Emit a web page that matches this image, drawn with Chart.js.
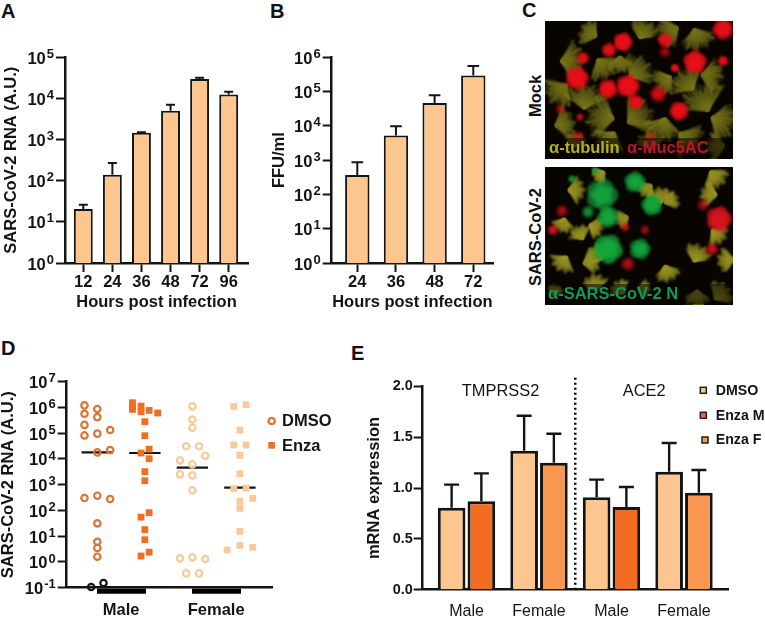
<!DOCTYPE html>
<html>
<head>
<meta charset="utf-8">
<style>
    html, body { margin: 0; padding: 0; background: #fff; width: 765px; height: 617px; overflow: hidden; }
    body { position: relative; font-family: "Liberation Sans", Arial, sans-serif; color: #111; }
    canvas { position: absolute; display: block; }
    .letter { position: absolute; font-size: 20px; font-weight: bold; line-height: 20px; }
    .side { position: absolute; font-size: 16.5px; font-weight: bold; line-height: 20px; white-space: nowrap; transform: translate(-50%, -50%) rotate(-90deg); }
</style>
<script src="https://cdn.jsdelivr.net/npm/chart.js@4"></script>
</head>
<body>
<div class="letter" style="left:1px;top:1px">A</div>
<div class="letter" style="left:270px;top:1px">B</div>
<div class="letter" style="left:522px;top:0px">C</div>
<div class="letter" style="left:1px;top:338px">D</div>
<div class="letter" style="left:351px;top:343px">E</div>
<div class="side" style="left:535px;top:96px">Mock</div>
<div class="side" style="left:535px;top:237px">SARS-CoV-2</div>

<canvas id="chart_a" width="262" height="285" style="left:0;top:30px"></canvas>
<canvas id="chart_b" width="240" height="285" style="left:262px;top:30px"></canvas>
<canvas id="photo_mock" width="188" height="138" style="left:545px;top:21px"></canvas>
<canvas id="photo_cov" width="188" height="138" style="left:545px;top:167px"></canvas>
<canvas id="chart_d" width="350" height="257" style="left:-6px;top:360px"></canvas>
<canvas id="chart_e" width="415" height="257" style="left:350px;top:360px"></canvas>

<script>
// panel A
const hoursA = ["12", "24", "36", "48", "72", "96"];
const rnaA = [20.5, 140, 1470, 5040, 29700, 12400];
const rnaErrA = [26, 270, 1500, 7050, 32000, 14600];
const powersA = [0, 1, 2, 3, 4, 5];

// panel B
const hoursB = ["24", "36", "48", "72"];
const ffuB = [370, 5200, 46700, 293000];
const ffuErrB = [867, 9730, 78200, 561000];
const powersB = [0, 1, 2, 3, 4, 5, 6];

// panel D, x is group number plus the sideways spread of the dots
const powersD = [-1, 0, 1, 2, 3, 4, 5, 6, 7];
const groupNames = ["Male", "Female"];
const groupTicks = [1.5, 3.5];
const medianCentres = [1, 2, 3, 4];
const medians = [18000, 17000, 4570, 765];

const maleDmsoX = [0.73, 1, 0.73, 1, 0.73, 1.27, 1, 0.73, 1.27, 1, 0.73, 1, 1.27, 1, 1, 1, 1];
const maleDmso = [1200000, 870000, 570000, 420000, 210000, 133000, 96000, 82000, 22000, 18000, 303, 374, 277, 31.5, 6.1, 3.5, 1.6];
const maleDmsoLowX = [0.87, 1.13];
const maleDmsoLow = [0.106, 0.152];

const maleEnzaX = [1.74, 1.74, 1.74, 1.92, 1.92, 2.09, 2.27, 2, 2, 2.09, 1.92, 2.09, 2, 2, 2.09, 1.92, 2, 2, 2.09, 1.92];
const maleEnza = [1530000, 1100000, 840000, 1130000, 680000, 770000, 610000, 280000, 80000, 24000, 17000, 10200, 3200, 1430, 82, 55, 18, 7.3, 2.4, 1.7];

const femaleDmsoX = [3, 3, 3, 2.87, 3.14, 3.27, 2.74, 3, 2.74, 3, 3, 2.74, 3, 3.27, 2.87, 3.14];
const femaleDmso = [1100000, 340000, 164000, 31000, 31000, 13400, 8800, 6160, 2520, 2300, 603, 1.38, 1.5, 1.3, 0.36, 0.36];

const femaleEnzaX = [3.87, 4.13, 4, 3.87, 4.13, 4, 4, 3.87, 4.13, 4, 4.27, 4, 4, 4, 4.27, 3.73];
const femaleEnza = [1100000, 1280000, 133000, 34700, 34700, 13800, 2670, 700, 742, 225, 294, 120, 15.4, 4.4, 3.7, 2.9];

// panel E
const groupsE = ["Male", "Female", "Male", "Female"];
const dmsoE = [0.807, 1.367, 0.908, 1.16];
const dmsoErrE = [1.033, 1.711, 1.082, 1.443];
const enzaE = [0.869, 1.249, 0.813, 0.954];
const enzaErrE = [1.144, 1.534, 1.01, 1.177];
const genes = ["TMPRSS2", "ACE2"];
const genePositions = [1.47, 3.45];

const PEACH = "#fdc68f";
const ORANGE = "#f26c22";
const MID_ORANGE = "#f9964f";
const INK = "#141414";
const BOLD = { size: 16.5, weight: "bold" };

Chart.defaults.font.family = '"Liberation Sans", Arial, sans-serif';
Chart.defaults.color = INK;
Chart.defaults.animation = false;
Chart.defaults.responsive = false;
Chart.defaults.plugins.legend.display = false;
Chart.defaults.plugins.tooltip.enabled = false;

// whisker above each bar, only the upper half like in the paper
const whiskers = {
    id: "whiskers",
    afterDatasetsDraw: function (chart) {
        const ctx = chart.ctx, y = chart.scales.y;
        chart.data.datasets.forEach(function (set, i) {
            if (!set.errHigh) return;
            chart.getDatasetMeta(i).data.forEach(function (bar, k) {
                const top = y.getPixelForValue(set.errHigh[k]);
                ctx.save();
                ctx.strokeStyle = INK;
                ctx.lineWidth = set.errWidth;
                ctx.beginPath();
                ctx.moveTo(bar.x, bar.y);
                ctx.lineTo(bar.x, top);
                ctx.moveTo(bar.x - set.errCap, top);
                ctx.lineTo(bar.x + set.errCap, top);
                ctx.stroke();
                ctx.restore();
            });
        });
    }
};

// tick labels of the log axes, 10 with a raised exponent
const powerLabels = {
    id: "powerLabels",
    afterDraw: function (chart) {
        const scale = chart.scales.y, ctx = chart.ctx;
        if (scale.type !== "logarithmic") return;
        const right = scale.right - 11;
        scale.ticks.forEach(function (tick) {
            const py = scale.getPixelForValue(tick.value);
            const exp = String(Math.round(Math.log10(tick.value)));
            ctx.save();
            ctx.fillStyle = INK;
            ctx.textBaseline = "middle";
            ctx.textAlign = "left";
            ctx.font = 'bold 13px "Liberation Sans"';
            const w = ctx.measureText(exp).width;
            ctx.fillText(exp, right - w, py - 3);
            ctx.textAlign = "right";
            ctx.font = 'bold 16.5px "Liberation Sans"';
            ctx.fillText("10", right - w - 1, py + 2);
            ctx.restore();
        });
    }
};

function powerTicks(powers) {
    return function (scale) {
        scale.ticks = powers.map(function (p) { return { value: Math.pow(10, p) }; });
    };
}

function fixedTicks(values) {
    return function (scale) {
        scale.ticks = values.map(function (v) { return { value: v }; });
    };
}

function logBarChart(id, labels, values, errors, powers, opts) {
    return new Chart(document.getElementById(id), {
        type: "bar",
        data: {
            datasets: [{
                data: values.map(function (v, i) { return { x: i + 1, y: v }; }),
                errHigh: errors,
                errWidth: 2,
                errCap: opts.cap,
                backgroundColor: PEACH,
                borderColor: INK,
                borderWidth: 2,
                categoryPercentage: 1,
                barPercentage: opts.barShare
            }]
        },
        options: {
            layout: { padding: { top: 27.3, right: opts.right, left: 0, bottom: 0 } },
            scales: {
                x: {
                    type: "linear",
                    offset: false,
                    min: opts.xMin,
                    max: opts.xMax,
                    afterBuildTicks: fixedTicks(labels.map(function (l, i) { return i + 1; })),
                    afterFit: function (s) { s.height = 52; },
                    border: { color: INK, width: 2.5 },
                    grid: { offset: false, drawOnChartArea: false, tickColor: INK, tickWidth: 2, tickLength: 9 },
                    ticks: {
                        font: BOLD, padding: 1, maxRotation: 0, autoSkip: false,
                        callback: function (v) { return labels[v - 1]; }
                    },
                    title: { display: true, text: "Hours post infection", font: BOLD, padding: { top: 0, bottom: 3 } }
                },
                y: {
                    type: "logarithmic",
                    min: Math.pow(10, powers[0]),
                    max: Math.pow(10, powers[powers.length - 1]),
                    afterBuildTicks: powerTicks(powers),
                    afterFit: function (s) { s.width = opts.yWidth; },
                    border: { color: INK, width: 2.5 },
                    grid: { drawOnChartArea: false, tickColor: INK, tickWidth: 2, tickLength: 9 },
                    ticks: { display: false },
                    title: { display: true, text: opts.yTitle, font: BOLD, padding: { top: opts.titlePad, bottom: 0 } }
                }
            }
        },
        plugins: [whiskers, powerLabels]
    });
}

logBarChart("chart_a", hoursA, rnaA, rnaErrA, powersA, {
    cap: 4.5, barShare: 0.65, right: 14, xMin: 0.371, xMax: 6.664, yWidth: 65,
    yTitle: "SARS-CoV-2 RNA (A.U.)", titlePad: 1.8
});

logBarChart("chart_b", hoursB, ffuB, ffuErrB, powersB, {
    cap: 5.8, barShare: 0.63, right: 9, xMin: 0.338, xMax: 4.51, yWidth: 69.7,
    yTitle: "FFU/ml", titlePad: 7.4
});

function dots(xs, ys, color, style) {
    const round = style === "circle";
    return {
        data: ys.map(function (v, i) { return { x: xs[i], y: v }; }),
        showLine: false,
        order: 1,
        clip: false,
        pointStyle: style,
        pointRadius: round ? 3.2 : 4.8,
        pointBorderWidth: round ? 2.2 : 0,
        pointBorderColor: color,
        pointBackgroundColor: round ? "rgba(0,0,0,0)" : color
    };
}

function medianLine(i) {
    return {
        data: [{ x: medianCentres[i] - 0.33, y: medians[i] }, { x: medianCentres[i] + 0.33, y: medians[i] }],
        showLine: true,
        order: 2,
        borderColor: INK,
        borderWidth: 2.2,
        pointRadius: 0
    };
}

const legendD = {
    id: "legendD",
    afterDraw: function (chart) {
        const ctx = chart.ctx;
        ctx.save();
        ctx.strokeStyle = "#dd7434";
        ctx.lineWidth = 2.2;
        ctx.beginPath();
        ctx.arc(277.7, 61, 3.2, 0, Math.PI * 2);
        ctx.stroke();
        ctx.fillStyle = ORANGE;
        ctx.fillRect(274.3, 82, 6.6, 6.6);
        ctx.fillStyle = INK;
        ctx.font = 'bold 16.5px "Liberation Sans"';
        ctx.textBaseline = "middle";
        ctx.fillText("DMSO", 288, 61.5);
        ctx.fillText("Enza", 288, 86);
        ctx.restore();
    }
};

new Chart(document.getElementById("chart_d"), {
    type: "scatter",
    data: {
        datasets: [
            medianLine(0), medianLine(1), medianLine(2), medianLine(3),
            dots(maleDmsoX, maleDmso, "#dd7434", "circle"),
            dots(maleDmsoLowX, maleDmsoLow, INK, "circle"),
            dots(maleEnzaX, maleEnza, ORANGE, "rect"),
            dots(femaleDmsoX, femaleDmso, "#fbc998", "circle"),
            dots(femaleEnzaX, femaleEnza, "#fbc998", "rect")
        ]
    },
    options: {
        layout: { padding: { top: 21.7, right: 71.3, left: 0, bottom: 0 } },
        scales: {
            x: {
                type: "linear",
                min: 0.356,
                max: 4.69,
                afterBuildTicks: fixedTicks(groupTicks),
                afterFit: function (s) { s.height = 29.3; },
                border: { color: INK, width: 2.5 },
                grid: { drawOnChartArea: false, tickColor: "#000", tickWidth: 49, tickLength: 6 },
                ticks: {
                    font: BOLD, padding: 7, maxRotation: 0, autoSkip: false,
                    callback: function (v) { return groupNames[groupTicks.indexOf(v)]; }
                }
            },
            y: {
                type: "logarithmic",
                min: Math.pow(10, powersD[0]),
                max: Math.pow(10, powersD[powersD.length - 1]),
                afterBuildTicks: powerTicks(powersD),
                afterFit: function (s) { s.width = 72.7; },
                border: { color: INK, width: 2.5 },
                grid: { drawOnChartArea: false, tickColor: INK, tickWidth: 2, tickLength: 9 },
                ticks: { display: false },
                title: { display: true, text: "SARS-CoV-2 RNA (A.U.)", font: BOLD, padding: { top: 4.1, bottom: 0 } }
            }
        }
    },
    plugins: [powerLabels, legendD]
});

// dotted divider, gene names and the small legend of panel E
const notesE = {
    id: "notesE",
    afterDraw: function (chart) {
        const ctx = chart.ctx, x = chart.scales.x, y = chart.scales.y;
        ctx.save();
        ctx.strokeStyle = "#000";
        ctx.lineWidth = 2.5;
        ctx.setLineDash([2, 3]);
        ctx.beginPath();
        ctx.moveTo(x.getPixelForValue(2.5), y.getPixelForValue(0));
        ctx.lineTo(x.getPixelForValue(2.5), y.top - 11);
        ctx.stroke();
        ctx.setLineDash([]);

        ctx.fillStyle = INK;
        ctx.textBaseline = "middle";
        ctx.textAlign = "center";
        ctx.font = '16.4px "Liberation Sans"';
        genes.forEach(function (g, i) {
            ctx.fillText(g, x.getPixelForValue(genePositions[i]), y.getPixelForValue(1.95));
        });

        ctx.textAlign = "left";
        ctx.font = 'bold 14.2px "Liberation Sans"';
        [["DMSO", PEACH, 353.3, 30.3], ["Enza M", ORANGE, 353.3, 55.3], ["Enza F", MID_ORANGE, 355, 80]].forEach(function (row) {
            ctx.fillStyle = row[1];
            ctx.strokeStyle = "#222";
            ctx.lineWidth = 1.5;
            ctx.fillRect(row[2] - 3, row[3] - 3, 6, 6);
            ctx.strokeRect(row[2] - 3, row[3] - 3, 6, 6);
            ctx.fillStyle = INK;
            ctx.fillText(row[0], 365.7, row[3] + 0.5);
        });
        ctx.restore();
    }
};

function barsE(values, errors, colors) {
    return {
        data: values.map(function (v, i) { return { x: i + 1, y: v }; }),
        errHigh: errors,
        errWidth: 2.4,
        errCap: 7.5,
        backgroundColor: colors,
        borderColor: INK,
        borderWidth: 3,
        categoryPercentage: 0.82,
        barPercentage: 0.93
    };
}

new Chart(document.getElementById("chart_e"), {
    type: "bar",
    data: {
        datasets: [
            barsE(dmsoE, dmsoErrE, PEACH),
            barsE(enzaE, enzaErrE, [ORANGE, MID_ORANGE, ORANGE, MID_ORANGE])
        ]
    },
    options: {
        layout: { padding: { top: 26.3, right: 36.7, left: 0, bottom: 0 } },
        scales: {
            x: {
                type: "linear",
                offset: false,
                min: 0.396,
                max: 4.611,
                afterBuildTicks: fixedTicks([1, 2, 3, 4]),
                afterFit: function (s) { s.height = 27.3; },
                border: { color: INK, width: 2.5 },
                grid: { offset: false, drawOnChartArea: false, drawTicks: false },
                ticks: {
                    font: { size: 16 }, padding: 12, maxRotation: 0, autoSkip: false,
                    callback: function (v) { return groupsE[v - 1]; }
                }
            },
            y: {
                min: 0,
                max: 2,
                afterBuildTicks: fixedTicks([0, 0.5, 1, 1.5, 2]),
                afterFit: function (s) { s.width = 72.7; },
                border: { color: INK, width: 2.5 },
                grid: { drawOnChartArea: false, tickColor: INK, tickWidth: 2, tickLength: 9 },
                ticks: {
                    font: { size: 14.4, weight: "bold" }, padding: 1,
                    callback: function (v) { return v.toFixed(1); }
                },
                title: { display: true, text: "mRNA expression", font: BOLD, padding: { top: 15, bottom: 0 } }
            }
        }
    },
    plugins: [whiskers, notesE]
});

// panel C is a micrograph, painted by hand: [x, y, radius] in canvas pixels
const mockTufts = [[25, 40, 24], [15, 70, 24], [40, 78, 26], [58, 45, 22], [58, 96, 28], [92, 96, 28], [118, 106, 24], [158, 80, 30], [176, 100, 26],
    [125, 10, 22], [98, 10, 20], [152, 16, 22], [45, 12, 18], [18, 103, 20], [65, 118, 20], [105, 122, 18], [142, 118, 24], [172, 125, 18],
    [92, 50, 24], [75, 42, 16], [142, 62, 24], [165, 55, 22], [120, 60, 18], [30, 120, 14]];
const mockRed = [[78, 21, 9, 1], [64, 29, 7, .8], [120, 19, 7, .8], [178, 8, 10, .9], [38, 37, 6, .7], [32, 57, 11, 1], [150, 41, 11, 1],
    [178, 40, 5, .8], [130, 47, 4, 1], [63, 68, 9, 1], [83, 65, 11, 1], [91, 81, 7, .9], [113, 73, 8, .55], [134, 90, 9, .95], [120, 31, 6, .3],
    [35, 96, 4, .5], [15, 88, 5, .3], [33, 116, 7, .3], [105, 116, 6, .25]];
const covTufts = [[30, 23, 16], [102, 22, 14], [115, 30, 16], [170, 10, 18], [165, 27, 16], [125, 33, 14], [18, 57, 14], [35, 67, 14], [50, 60, 14],
    [78, 52, 12], [152, 88, 18], [122, 105, 16], [52, 88, 16], [45, 95, 16], [18, 95, 16], [50, 117, 16], [172, 67, 16], [182, 93, 16], [175, 127, 18],
    [152, 130, 16], [75, 122, 14], [98, 122, 12], [55, 8, 12], [10, 124, 10]];
const covGreen = [[57, 28, 15, .8], [90, 15, 10, .85], [107, 38, 10, .9], [63, 50, 10, .9], [63, 82, 14, .95], [95, 82, 10, .8], [43, 45, 6, .5],
    [27, 12, 4, .55], [50, 4, 3, .9]];
const covRed = [[174, 52, 12, 1], [17, 44, 6, .4], [158, 38, 6, .35], [167, 82, 6, .6], [83, 97, 7, .4], [80, 60, 5, .4], [8, 63, 5, .7], [100, 63, 5, .35]];

// each tuft is a feathery fan of cilia pointing one way
function paintTufts(ctx, tufts, shades) {
    const reach = [1, 0.72, 0.9, 0.62, 0.85, 0.78, 0.95];
    ctx.lineWidth = 1.3;
    tufts.forEach(function (t, n) {
        const heading = n * 2.4;
        for (let k = -14; k <= 14; k++) {
            const a = heading + k * 0.075;
            const len = t[2] * reach[(k + 14 + n) % reach.length];
            const sx = t[0] - Math.cos(heading) * t[2] * 0.35;
            const sy = t[1] - Math.sin(heading) * t[2] * 0.35;
            ctx.strokeStyle = shades[(k + 14 + n) % shades.length];
            ctx.beginPath();
            ctx.moveTo(sx, sy);
            ctx.lineTo(sx + Math.cos(a) * len, sy + Math.sin(a) * len);
            ctx.stroke();
        }
    });
}

function paintBlobs(ctx, blobs, rgb) {
    blobs.forEach(function (b, n) {
        for (let j = 0; j < 6; j++) {
            const cx = j === 5 ? b[0] : b[0] + Math.cos(j * 1.26 + n) * b[2] * 0.5;
            const cy = j === 5 ? b[1] : b[1] + Math.sin(j * 1.26 + n) * b[2] * 0.5;
            const r = b[2] * 0.68;
            const g = ctx.createRadialGradient(cx, cy, 0, cx, cy, r);
            g.addColorStop(0, "rgba(" + rgb + "," + b[3] + ")");
            g.addColorStop(0.7, "rgba(" + rgb + "," + b[3] * 0.75 + ")");
            g.addColorStop(1, "rgba(" + rgb + ",0)");
            ctx.fillStyle = g;
            ctx.beginPath();
            ctx.arc(cx, cy, r, 0, Math.PI * 2);
            ctx.fill();
        }
    });
}

function caption(ctx, parts, y) {
    ctx.filter = "none";
    ctx.fillStyle = "rgba(6,4,0,0.55)";
    ctx.fillRect(0, y - 10, 188, 20);
    ctx.font = 'bold 16.5px "Liberation Sans"';
    ctx.textBaseline = "middle";
    parts.forEach(function (p) {
        ctx.fillStyle = p[1];
        ctx.fillText(p[0], p[2], y);
    });
}

function paintPhoto(id, tufts, shades, layers, parts) {
    const ctx = document.getElementById(id).getContext("2d");
    ctx.fillStyle = "#080500";
    ctx.fillRect(0, 0, 188, 138);
    ctx.filter = "blur(0.9px)";
    paintTufts(ctx, tufts, shades);
    layers.forEach(function (l) { paintBlobs(ctx, l[0], l[1]); });
    caption(ctx, parts, 127);
}

paintPhoto("photo_mock", mockTufts, ["#7f7d1e", "#4f4e10", "#a09b28", "#656315"],
    [[mockRed, "232,16,24"]], [["α-tubulin", "#b9b016", 4], ["α-Muc5AC", "#c8102a", 82]]);
paintPhoto("photo_cov", covTufts, ["#a49e28", "#6e6c18", "#bdb532", "#878420"],
    [[covRed, "214,20,30"], [covGreen, "20,165,60"]], [["α-SARS-CoV-2 N", "#0e9a58", 3]]);
</script>
</body>
</html>
